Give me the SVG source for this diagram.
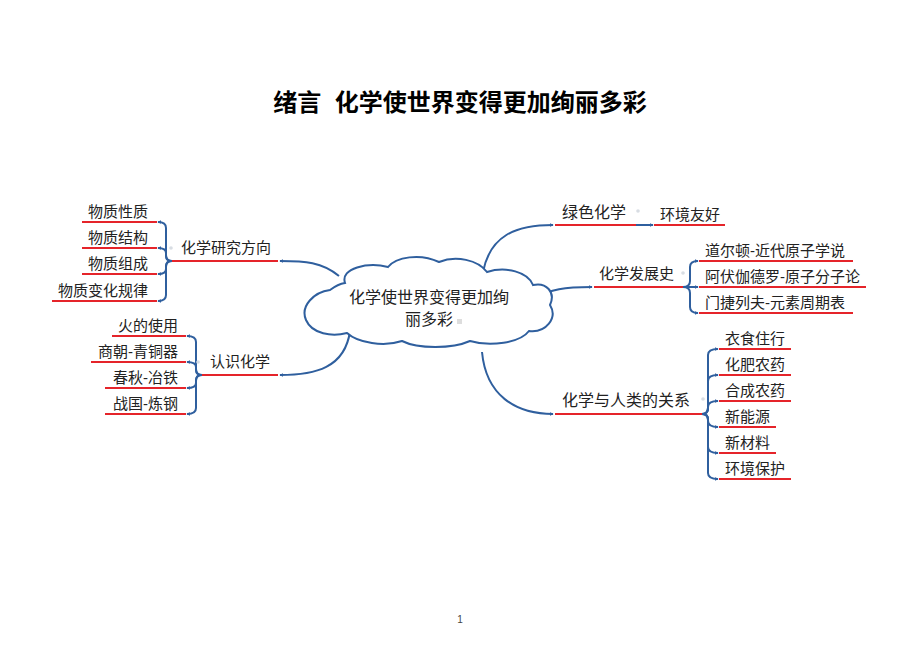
<svg xmlns="http://www.w3.org/2000/svg" width="920" height="651" viewBox="0 0 920 651">
<defs>
<marker id="ah" viewBox="0 0 6 6" refX="5" refY="3" markerWidth="4" markerHeight="4" orient="auto" markerUnits="userSpaceOnUse">
<path d="M0,0 L6,3 L0,6 Z" fill="#2f5f9e"/>
</marker>
<style>
text{font-family:"Liberation Sans","Noto Sans CJK SC",sans-serif;fill:#222}
.t{font-size:24px;font-weight:bold;fill:#000}
.b{font-size:15px}
.l{font-size:15px}
.c{font-size:16px}
.ul{stroke:#e5242a;stroke-width:2;fill:none}
.cn{stroke:#2f5f9e;stroke-width:2;fill:none}
.dot{fill:#d8dde3}
</style>
</defs>
<rect width="920" height="651" fill="#fff"/>
<text class="t" x="460" y="111" text-anchor="middle" xml:space="preserve">绪言  化学使世界变得更加绚丽多彩</text>

<g id="connectors">
<path class="cn" marker-end="url(#ah)" d="M339,276 C322,262 305,261 280,261"/>
<path class="cn" marker-end="url(#ah)" d="M350,331 C345,368 315,375 280,375"/>
<path class="cn" marker-end="url(#ah)" d="M483,272 C490,236 515,225 553,225"/>
<path class="cn" marker-end="url(#ah)" d="M535,299 C550,289 565,287 592,287"/>
<path class="cn" marker-end="url(#ah)" d="M482,352 C486,395 515,414 553,414"/>
<path class="cn" marker-end="url(#ah)" d="M636,225 L653,225"/>
<!-- left group 1 brace -->
<path class="cn" marker-end="url(#ah)" d="M172,261 Q166,261 166,255 L166,228 Q166,222 158,222"/>
<path class="cn" marker-end="url(#ah)" d="M172,261 Q166,261 166,256 L166,253 Q166,248 158,248"/>
<path class="cn" marker-end="url(#ah)" d="M172,261 Q166,261 166,266 L166,269 Q166,274 158,274"/>
<path class="cn" marker-end="url(#ah)" d="M172,261 Q166,261 166,267 L166,295 Q166,301 158,301"/>
<!-- left group 2 brace -->
<path class="cn" marker-end="url(#ah)" d="M202,375 Q196,375 196,369 L196,342 Q196,336 187,336"/>
<path class="cn" marker-end="url(#ah)" d="M202,375 Q196,375 196,370 L196,367 Q196,362 187,362"/>
<path class="cn" marker-end="url(#ah)" d="M202,375 Q196,375 196,380 L196,383 Q196,388 187,388"/>
<path class="cn" marker-end="url(#ah)" d="M202,375 Q196,375 196,381 L196,408 Q196,414 187,414"/>
<!-- history brace -->
<path class="cn" marker-end="url(#ah)" d="M683,287 Q690,287 690,281 L690,267 Q690,261 698,261"/>
<path class="cn" marker-end="url(#ah)" d="M683,287 L698,287"/>
<path class="cn" marker-end="url(#ah)" d="M683,287 Q690,287 690,293 L690,307 Q690,313 698,313"/>
<!-- relation brace -->
<path class="cn" marker-end="url(#ah)" d="M702,414 Q708,414 708,408 L708,355 Q708,349 718,349"/>
<path class="cn" marker-end="url(#ah)" d="M702,414 Q708,414 708,408 L708,381 Q708,375 718,375"/>
<path class="cn" marker-end="url(#ah)" d="M702,414 Q708,414 708,408 L708,407 Q708,401 718,401"/>
<path class="cn" marker-end="url(#ah)" d="M702,414 Q708,414 708,419 L708,421 Q708,427 718,427"/>
<path class="cn" marker-end="url(#ah)" d="M702,414 Q708,414 708,420 L708,447 Q708,453 718,453"/>
<path class="cn" marker-end="url(#ah)" d="M702,414 Q708,414 708,420 L708,473 Q708,479 718,479"/>
</g>

<g id="center">
<path d="M330,290 C314,292 300,306 306,320 C312,334 332,337 347,333 C358,343 384,347 402,341 C418,349 452,349 470,341 C490,347 520,343 529,331 C546,333 558,318 550,305 C556,292 546,282 533,285 C528,272 506,266 487,272 C478,260 456,255 439,262 C420,253 396,257 388,267 C368,262 340,268 345,283 C338,284 334,287 330,290 Z" fill="#fff" stroke="#2f5f9e" stroke-width="2"/>
<text class="c" x="429" y="303" text-anchor="middle">化学使世界变得更加绚</text>
<text class="c" x="429" y="325" text-anchor="middle">丽多彩</text>
<rect x="457" y="319" width="5" height="5" fill="#ddd"/>
</g>

<g id="research">
<path class="ul" d="M172,261 H278"/>
<text class="b" x="181" y="253">化学研究方向</text>
<circle class="dot" cx="171" cy="248" r="1.8"/>
</g>
<g id="leaf-xingzhi"><path class="ul" d="M82,222 H157"/><text class="l" x="148" y="217" text-anchor="end">物质性质</text></g>
<g id="leaf-jiegou"><path class="ul" d="M82,248 H157"/><text class="l" x="148" y="243" text-anchor="end">物质结构</text></g>
<g id="leaf-zucheng"><path class="ul" d="M82,274 H157"/><text class="l" x="148" y="269" text-anchor="end">物质组成</text></g>
<g id="leaf-bianhua"><path class="ul" d="M52,301 H157"/><text class="l" x="148" y="296" text-anchor="end">物质变化规律</text></g>

<g id="renshi">
<path class="ul" d="M202,375 H278"/>
<text class="b" x="210" y="367">认识化学</text>
<circle class="dot" cx="198" cy="362" r="1.8"/>
</g>
<g id="leaf-huo"><path class="ul" d="M112,336 H186"/><text class="l" x="178" y="331" text-anchor="end">火的使用</text></g>
<g id="leaf-shang"><path class="ul" d="M91,362 H186"/><text class="l" x="178" y="357" text-anchor="end">商朝-青铜器</text></g>
<g id="leaf-chunqiu"><path class="ul" d="M105,388 H186"/><text class="l" x="178" y="383" text-anchor="end">春秋-冶铁</text></g>
<g id="leaf-zhanguo"><path class="ul" d="M105,414 H186"/><text class="l" x="178" y="409" text-anchor="end">战国-炼钢</text></g>

<g id="green">
<path class="ul" d="M555,225 H636"/>
<text class="c" x="562" y="218">绿色化学</text>
<circle class="dot" cx="638" cy="211" r="1.8"/>
</g>
<g id="leaf-huanjing"><path class="ul" d="M654,225 H725"/><text class="l" x="660" y="220">环境友好</text></g>

<g id="history">
<path class="ul" d="M594,287 H683"/>
<text class="b" x="599" y="279">化学发展史</text>
<circle class="dot" cx="683" cy="273" r="1.8"/>
</g>
<g id="leaf-dalton"><path class="ul" d="M699,261 H853"/><text class="l" x="705" y="256">道尔顿-近代原子学说</text></g>
<g id="leaf-avogadro"><path class="ul" d="M699,287 H866"/><text class="l" x="705" y="282">阿伏伽德罗-原子分子论</text></g>
<g id="leaf-mendeleev"><path class="ul" d="M699,313 H853"/><text class="l" x="705" y="308">门捷列夫-元素周期表</text></g>

<g id="relation">
<path class="ul" d="M555,414 H702"/>
<text class="c" x="562" y="406">化学与人类的关系</text>
<circle class="dot" cx="703" cy="399" r="1.8"/>
</g>
<g id="leaf-yishi"><path class="ul" d="M719,349 H791"/><text class="l" x="725" y="344">衣食住行</text></g>
<g id="leaf-huafei"><path class="ul" d="M719,375 H791"/><text class="l" x="725" y="370">化肥农药</text></g>
<g id="leaf-hecheng"><path class="ul" d="M719,401 H791"/><text class="l" x="725" y="396">合成农药</text></g>
<g id="leaf-nengyuan"><path class="ul" d="M719,427 H776"/><text class="l" x="725" y="422">新能源</text></g>
<g id="leaf-cailiao"><path class="ul" d="M719,453 H776"/><text class="l" x="725" y="448">新材料</text></g>
<g id="leaf-baohu"><path class="ul" d="M719,479 H791"/><text class="l" x="725" y="474">环境保护</text></g>

<text x="460" y="623" text-anchor="middle" style="font-size:10px;fill:#444">1</text>
</svg>
